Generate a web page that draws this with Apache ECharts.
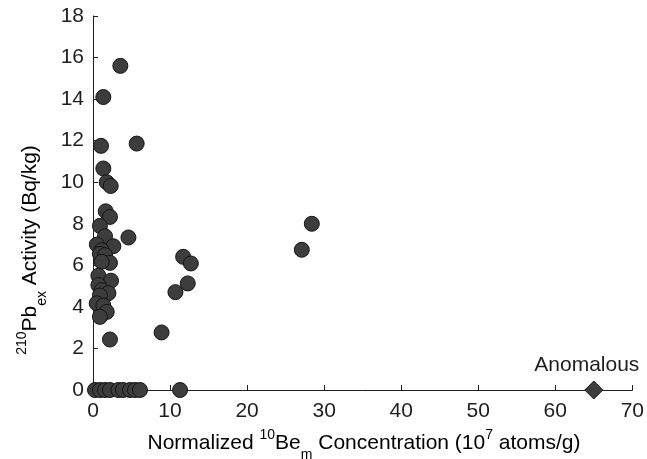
<!DOCTYPE html>
<html>
<head>
<meta charset="utf-8">
<script src="https://cdn.jsdelivr.net/npm/echarts@6/dist/echarts.min.js"></script>
<style>
  html, body { margin: 0; padding: 0; background: #fff; }
  #chart { width: 647px; height: 459px; }
</style>
</head>
<body>
<div id="chart"></div>
<script>
// Normalized 10Be_m concentration (10^7 atoms/g) vs 210Pb_ex activity (Bq/kg)
const beConc = [
  3.55, 1.34, 1.04, 5.67, 1.34, 1.78, 2.3, 1.65, 2.2, 0.9,
  1.56, 4.6, 0.5, 2.64, 1.13, 0.9, 1.56, 2.2, 1.13, 0.7,
  2.34, 0.7, 1.13, 2.0, 0.9, 0.48, 1.34, 1.78, 0.9, 2.2,
  8.9, 10.7, 11.7, 12.7, 12.3, 27.1, 28.4,
  0.26, 0.9, 1.56, 2.2, 3.3, 3.9, 4.8, 5.45, 6.1, 11.3
];
const pbActivity = [
  15.6, 14.1, 11.75, 11.86, 10.66, 10.0, 9.82, 8.6, 8.33, 7.9,
  7.4, 7.34, 7.0, 6.92, 6.73, 6.55, 6.49, 6.12, 6.17, 5.5,
  5.26, 5.05, 4.81, 4.66, 4.55, 4.17, 4.07, 3.76, 3.52, 2.43,
  2.77, 4.71, 6.41, 6.09, 5.13, 6.75, 8.0,
  0, 0, 0, 0, 0, 0, 0, 0, 0, 0
];
// Sample flagged as anomalous
const anomalousBe = [65];
const anomalousPb = [0];
const anomalousLabel = 'Anomalous';

const xTicks = { min: 0, max: 70, step: 10 };
const yTicks = { min: 0, max: 18, step: 2 };

const FONT = '"Liberation Sans", Arial, Helvetica, sans-serif';
const INK = '#1e1e1e';
const FS = 21;

const pairs = (xs, ys) => xs.map((x, i) => [x, ys[i]]);

// rich-text styles for the super/subscripted axis titles
const titleRich = {
  t: { fontSize: FS, fontFamily: FONT, color: INK, verticalAlign: 'middle', lineHeight: 38 },
  sup: { fontSize: 14, fontFamily: FONT, color: INK, verticalAlign: 'top', lineHeight: 14, padding: [4, 0, 0, 0] },
  sub: { fontSize: 14, fontFamily: FONT, color: INK, verticalAlign: 'bottom', lineHeight: 14 }
};

const chart = echarts.init(document.getElementById('chart'), null, { renderer: 'canvas' });

const axisCommon = {
  axisLine: { show: true, lineStyle: { color: INK, width: 1 } },
  axisTick: { show: true, inside: true, length: 5, lineStyle: { color: INK } },
  splitLine: { show: false },
  axisLabel: { color: INK, fontSize: FS, fontFamily: FONT }
};

chart.setOption({
  animation: false,
  backgroundColor: '#fff',
  grid: { left: 93, right: 14, top: 16, bottom: 69, containLabel: false },
  xAxis: Object.assign({}, axisCommon, {
    type: 'value',
    min: xTicks.min, max: xTicks.max, interval: xTicks.step,
    axisLabel: Object.assign({}, axisCommon.axisLabel, { margin: 11 })
  }),
  yAxis: Object.assign({}, axisCommon, {
    type: 'value',
    min: yTicks.min, max: yTicks.max, interval: yTicks.step,
    axisLabel: Object.assign({}, axisCommon.axisLabel, { margin: 9 })
  }),
  graphic: [
    {
      type: 'text',
      x: 364, y: 443,
      style: {
        text: '{t|Normalized }{sup|10}{t|Be}{sub|m}{t| Concentration (10}{sup|7}{t| atoms/g)}',
        rich: titleRich,
        align: 'center',
        verticalAlign: 'middle'
      }
    },
    {
      type: 'text',
      x: 30, y: 250,
      rotation: Math.PI / 2,
      style: {
        text: '{sup|210}{t|Pb}{sub|ex}{t| Activity (Bq/kg)}',
        rich: titleRich,
        align: 'center',
        verticalAlign: 'middle'
      }
    }
  ],
  series: [
    {
      type: 'scatter',
      data: pairs(beConc, pbActivity),
      symbol: 'circle',
      symbolSize: 15,
      itemStyle: { color: '#3d3d3d', borderColor: '#151515', borderWidth: 1, opacity: 1 },
      clip: false,
      z: 3
    },
    {
      type: 'scatter',
      data: pairs(anomalousBe, anomalousPb),
      symbol: 'diamond',
      symbolSize: [18, 18],
      itemStyle: { color: '#3d3d3d', borderColor: '#151515', borderWidth: 1, opacity: 1 },
      label: {
        show: true,
        position: 'top',
        distance: 5,
        offset: [-7, 0],
        formatter: anomalousLabel,
        color: INK,
        fontSize: FS,
        fontFamily: FONT
      },
      clip: false,
      z: 4
    }
  ]
});
</script>
</body>
</html>
